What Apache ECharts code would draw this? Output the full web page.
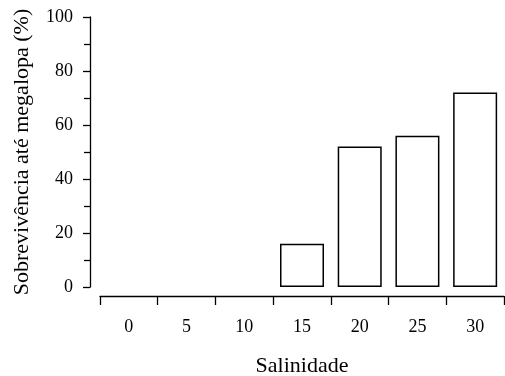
<!DOCTYPE html>
<html>
<head>
<meta charset="utf-8">
<script src="https://cdn.jsdelivr.net/npm/echarts@6/dist/echarts.min.js"></script>
<style>
  html, body { margin: 0; padding: 0; background: #fff; }
  #chart { width: 505px; height: 376px; }
</style>
</head>
<body>
<div id="chart"></div>
<script>
// salinidade (categorias) e sobrevivência (%)
const salinidade = ["0", "5", "10", "15", "20", "25", "30"];
const sobrevivencia = [0, 0, 0, 16, 52, 56, 72];

const fonte = "'Liberation Serif', 'Times New Roman', serif";

const chart = echarts.init(document.getElementById("chart"));

// barras com valor zero não têm contorno no original
const dadosBarras = sobrevivencia.map(v => (
  v === 0 ? { value: v, itemStyle: { borderWidth: 0 } } : v
));

const options = {
  animation: false,
  grid: { left: 100, right: 1, top: 17, bottom: 89, outerBoundsMode: "none", containLabel: false },
  xAxis: {
    type: "category",
    data: salinidade,
    offset: 9,
    name: "Salinidade",
    nameLocation: "middle",
    nameGap: 59,
    nameTextStyle: { fontFamily: fonte, fontSize: 22, color: "#000" },
    axisLine: { onZero: false, lineStyle: { color: "#000", width: 1.3 } },
    axisTick: { show: true, length: 9, lineStyle: { color: "#000", width: 1.3 } },
    axisLabel: { margin: 22, fontFamily: fonte, fontSize: 18, color: "#000" }
  },
  yAxis: {
    type: "value",
    min: 0,
    max: 100,
    interval: 20,
    offset: 10,
    name: "Sobrevivência até megalopa (%)",
    nameLocation: "middle",
    nameRotate: 90,
    nameGap: 57,
    nameTextStyle: { fontFamily: fonte, fontSize: 22, color: "#000" },
    axisLine: { show: true, lineStyle: { color: "#000", width: 1.3 } },
    axisTick: { show: true, length: 7, lineStyle: { color: "#000", width: 1.3 } },
    minorTick: { show: true, splitNumber: 2, length: 6, lineStyle: { color: "#000", width: 1.3 } },
    splitLine: { show: false },
    axisLabel: { margin: 17, fontFamily: fonte, fontSize: 18, color: "#000" }
  },
  series: [
    {
      type: "bar",
      data: dadosBarras,
      barWidth: 44,
      itemStyle: { color: "#fff", borderColor: "#000", borderWidth: 1.5 }
    }
  ]
};

chart.setOption(options);
</script>
</body>
</html>
